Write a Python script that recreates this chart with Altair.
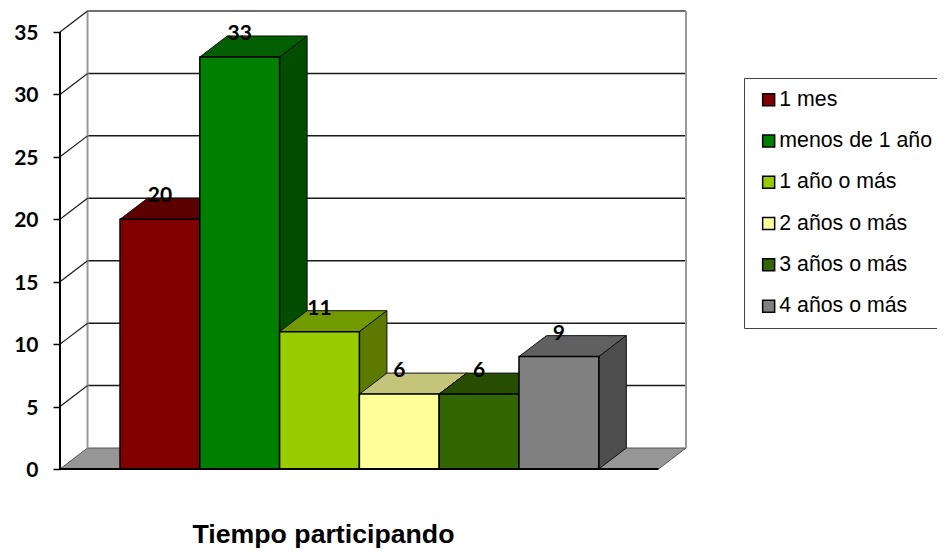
import altair as alt
import pandas as pd

categories = ["1 mes", "menos de 1 año", "1 año o más", "2 años o más", "3 años o más", "4 años o más"]
values = [20, 33, 11, 6, 6, 9]
y_ticks = [0, 5, 10, 15, 20, 25, 30, 35]
axis_title = "Tiempo participando"

front_colors = ["#800000", "#008000", "#99CC00", "#FFFF99", "#336600", "#808080"]
top_colors = ["#5C0000", "#005F00", "#739900", "#C4C47A", "#264D00", "#606060"]
side_colors = ["#4D0000", "#004D00", "#5C7A00", "#999973", "#1F3D00", "#4D4D4D"]

# Projection constants, in data units
DX = 0.345      # depth along the slot axis
DY = 1.68       # depth along the value axis
X_MIN = -0.752  # left edge of the floor, front
X_MAX = 7.093   # right edge of the back wall
Y_MAX = 36.68
Y_TOP = 35
FRONT_RIGHT = X_MAX - DX
BACK_LEFT = X_MIN + DX

x_scale = alt.Scale(domain=[X_MIN, X_MAX], nice=False, zero=False)
y_scale = alt.Scale(domain=[0, Y_MAX], nice=False, zero=False)
color_scale = alt.Scale(domain=categories, range=front_colors)

x_axis = alt.Axis(
    title=axis_title, labels=False, ticks=False, domain=False, grid=False,
    titleFont="Liberation Sans", titleFontSize=26.7, titleFontWeight="bold", titleColor="#000000",
    titleX=263, titleY=73, titleAlign="center", titleBaseline="alphabetic")
y_axis = alt.Axis(
    title="", values=y_ticks, grid=False, domain=False, tickSize=7, tickWidth=1.5,
    tickColor="#000000", labelPadding=15, labelFont="Lato", labelFontSize=21,
    labelFontWeight="bold", labelColor="#000000", labelOffset=1.5)


def X(field="x"):
    return alt.X(f"{field}:Q", scale=x_scale, axis=x_axis)


def Y(field="y"):
    return alt.Y(f"{field}:Q", scale=y_scale, axis=y_axis)


floor_df = pd.DataFrame({"y": [0, DY], "xl": [X_MIN, BACK_LEFT], "xr": [FRONT_RIGHT, X_MAX]})
floor = alt.Chart(floor_df).mark_area(orient="horizontal", fill="#969696", stroke="#555555", strokeWidth=1).encode(
    y=Y(), x=X("xl"), x2="xr:Q")

grid_df = pd.DataFrame({"y": [v + DY for v in y_ticks[1:]], "xl": BACK_LEFT, "xr": X_MAX})
grid = alt.Chart(grid_df).mark_rule(stroke="#1a1a1a", strokeWidth=1.5).encode(
    y=Y(), x=X("xl"), x2="xr:Q")

top_edge = alt.Chart(grid_df[grid_df.y == Y_MAX]).mark_rule(stroke="#777777", strokeWidth=1.5).encode(
    y=Y(), x=X("xl"), x2="xr:Q")

wall_df = pd.DataFrame({"x": [BACK_LEFT, X_MAX], "y": DY, "y2": Y_MAX})
walls = alt.Chart(wall_df).mark_rule(stroke="#999999", strokeWidth=2).encode(
    x=X(), y=Y(), y2="y2:Q")

diag_df = pd.DataFrame({"x": X_MIN, "x2": BACK_LEFT, "y": y_ticks[1:], "y2": [v + DY for v in y_ticks[1:]]})
diagonals = alt.Chart(diag_df).mark_rule(stroke="#1a1a1a", strokeWidth=1.2).encode(
    x=X(), x2="x2:Q", y=Y(), y2="y2:Q")

bar_layers = []
for i, (cat, val) in enumerate(zip(categories, values)):
    top_df = pd.DataFrame({"y": [val, val + DY], "xl": [i, i + DX], "xr": [i + 1, i + 1 + DX]})
    top = alt.Chart(top_df).mark_area(
        orient="horizontal", fill=top_colors[i], stroke="#111111", strokeWidth=1).encode(
        y=Y(), x=X("xl"), x2="xr:Q")
    side_df = pd.DataFrame({"x": [i + 1, i + 1 + DX], "y": [0, DY], "y2": [val, val + DY]})
    side = alt.Chart(side_df).mark_area(
        orient="vertical", fill=side_colors[i], stroke="#111111", strokeWidth=1).encode(
        x=X(), y=Y(), y2="y2:Q")
    front_df = pd.DataFrame({"cat": [cat], "x": [i], "x2": [i + 1], "y": [0], "y2": [val]})
    front = alt.Chart(front_df).mark_rect(stroke="#000000", strokeWidth=1.5).encode(
        x=X(), x2="x2:Q", y=Y(), y2="y2:Q",
        color=alt.Color("cat:N", scale=color_scale, title=None, legend=alt.Legend(
            orient="none", legendX=684, legendY=67, fillColor="#ffffff", strokeColor="#444444",
            padding=11, rowPadding=19.3, symbolType="square", symbolSize=144, symbolOffset=3,
            symbolStrokeColor="#000000", symbolStrokeWidth=1.5, symbolOpacity=1, labelOffset=0,
            labelFont="Liberation Sans", labelFontSize=21.3, labelColor="#000000",
            labelLimit=300, values=categories)),
    )
    bar_layers += [top, side, front]

front_axis = alt.Chart(pd.DataFrame({"x": [X_MIN], "y": [0], "y2": [Y_TOP]})).mark_rule(
    stroke="#000000", strokeWidth=2).encode(x=X(), y=Y(), y2="y2:Q")
baseline = alt.Chart(pd.DataFrame({"y": [0], "xl": [X_MIN], "xr": [FRONT_RIGHT]})).mark_rule(
    stroke="#000000", strokeWidth=2).encode(y=Y(), x=X("xl"), x2="xr:Q")

label_df = pd.DataFrame({"x": [i + 0.5 for i in range(len(values))], "y": values, "t": [str(v) for v in values]})
labels = alt.Chart(label_df).mark_text(
    font="Lato", fontSize=21, fontWeight="bold", color="#000000", baseline="alphabetic", dy=-17
).encode(x=X(), y=Y(), text="t:N")

chart = alt.layer(
    floor, grid, top_edge, walls, diagonals, *bar_layers, front_axis, baseline, labels
).resolve_scale(color="shared").properties(
    width=626,
    height=458,
    background="#ffffff",
    autosize=alt.AutoSizeParams(type="none"),
    padding={"left": 52, "top": 3, "right": 251, "bottom": 79},
).configure_view(stroke=None)

chart.save("out.html", embed_options={"renderer": "svg", "actions": False})
